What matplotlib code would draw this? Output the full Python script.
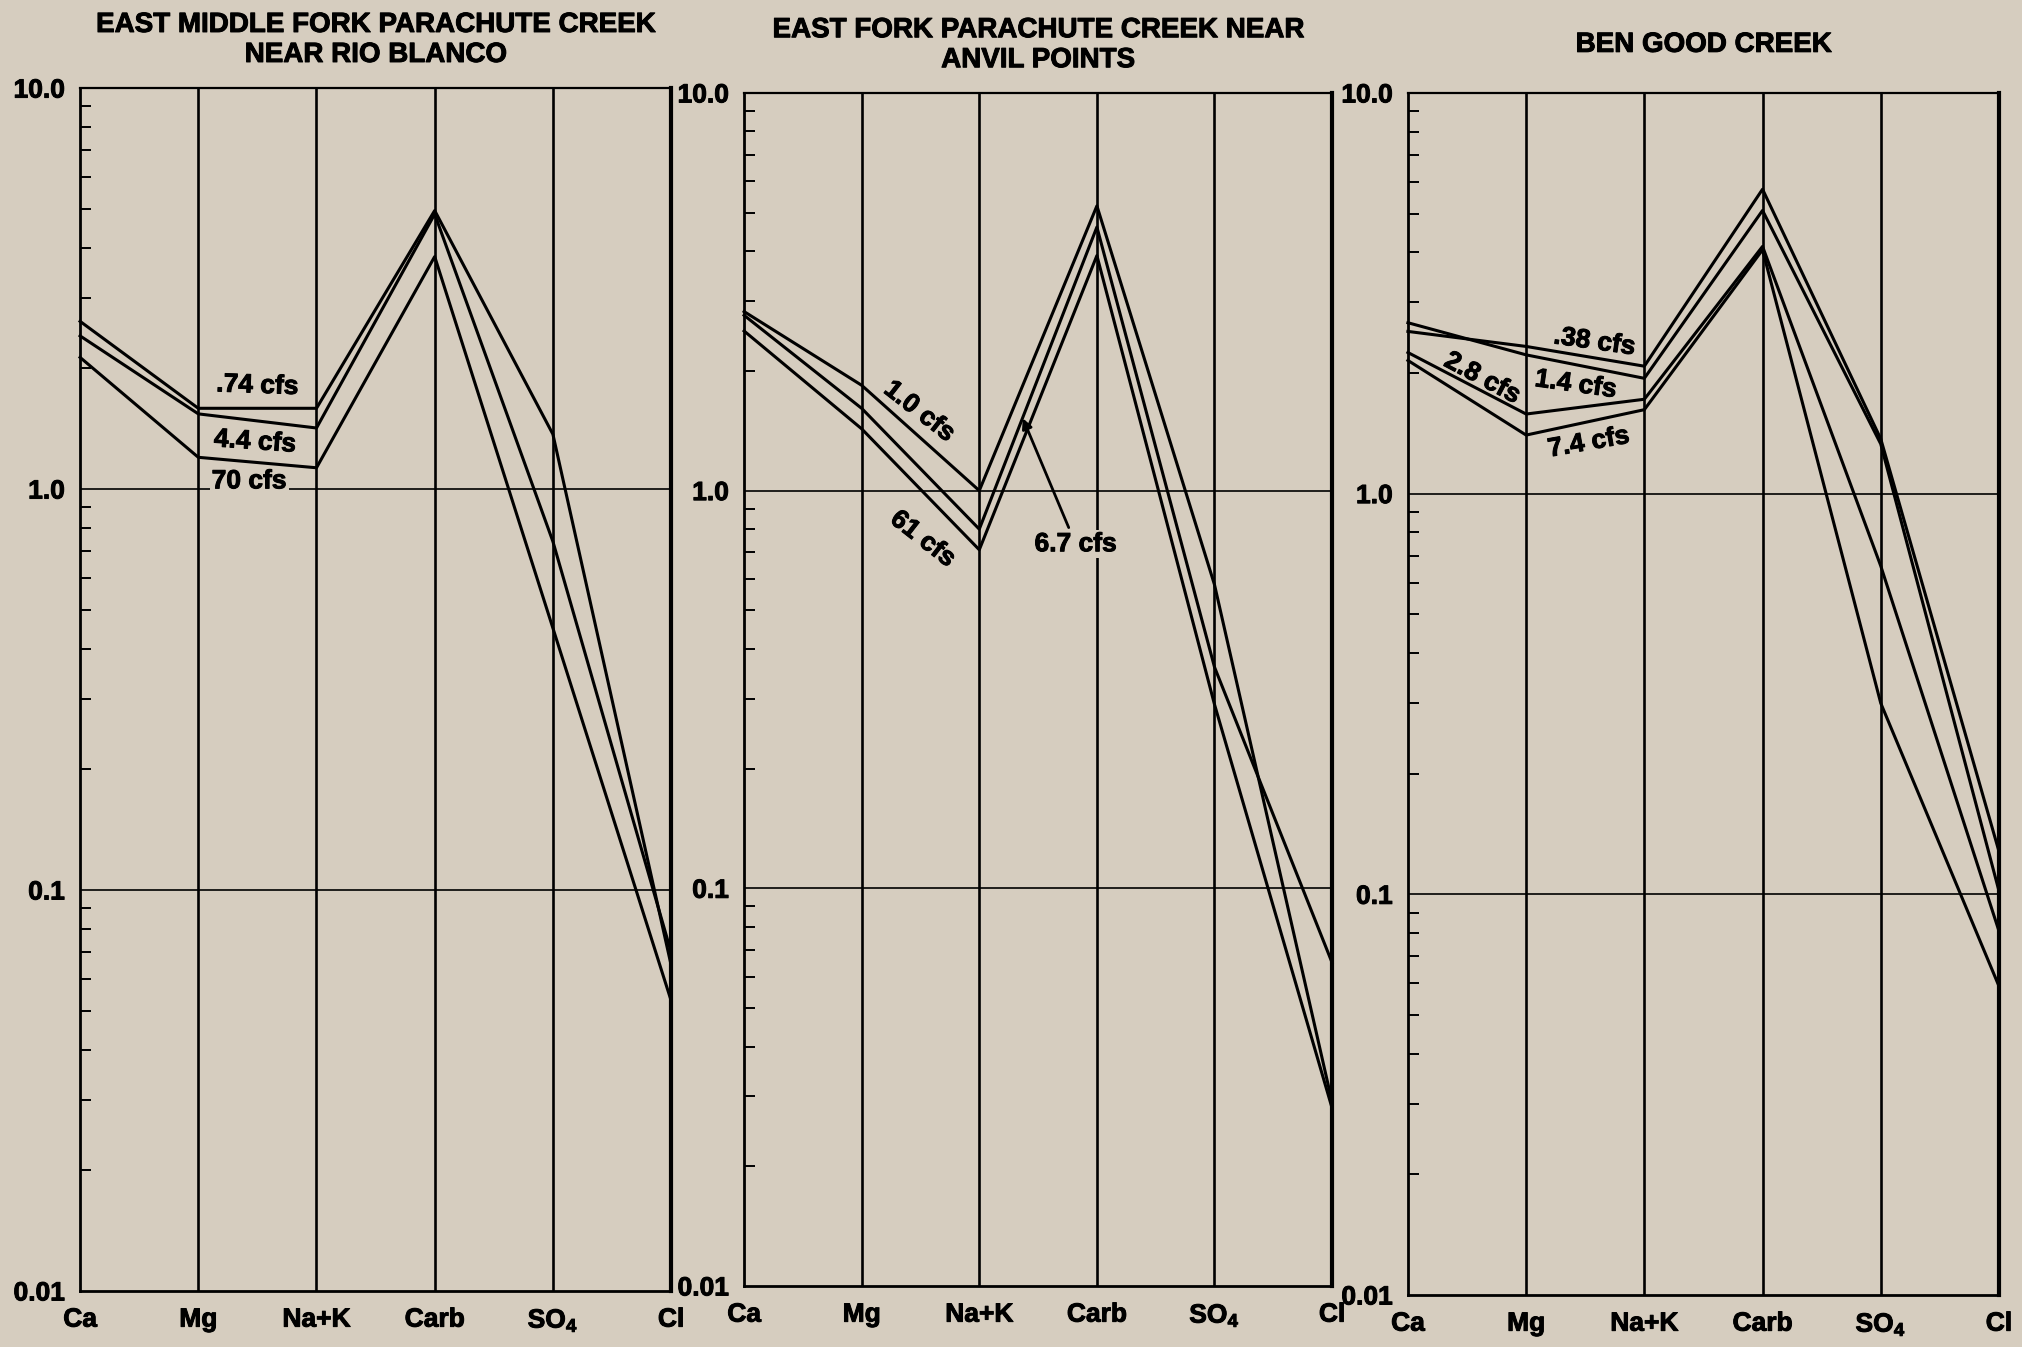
import numpy as np
import matplotlib.pyplot as plt
import matplotlib.patheffects as pe
from matplotlib.ticker import LogLocator, NullFormatter

plt.rcParams['font.family'] = ['Liberation Sans', 'DejaVu Sans']
plt.rcParams['font.weight'] = 'bold'
plt.rcParams['mathtext.fontset'] = 'custom'
plt.rcParams['mathtext.rm'] = 'Liberation Sans:bold'
plt.rcParams['mathtext.it'] = 'Liberation Sans:bold'
plt.rcParams['mathtext.bf'] = 'Liberation Sans:bold'

ions = ['Ca', 'Mg', 'Na+K', 'Carb', 'SO$_4$', 'Cl']
ytick_vals = [0.01, 0.1, 1.0, 10.0]
ytick_text = ['0.01', '0.1', '1.0', '10.0']

titles = ['EAST MIDDLE FORK PARACHUTE CREEK\nNEAR RIO BLANCO',
          'EAST FORK PARACHUTE CREEK NEAR\nANVIL POINTS',
          'BEN GOOD CREEK']

# milliequivalents per liter, Ca .. Cl, one list per sampled discharge
rio_blanco_074 = [2.62, 1.59, 1.59, 4.95, 1.37, 0.065]
rio_blanco_44 = [2.41, 1.54, 1.42, 4.85, 0.74, 0.070]
rio_blanco_70 = [2.13, 1.20, 1.13, 3.80, 0.45, 0.053]

anvil_10 = [2.82, 1.84, 1.00, 5.20, 0.58, 0.029]
anvil_67 = [2.76, 1.61, 0.80, 4.60, 0.36, 0.065]
anvil_61 = [2.52, 1.43, 0.71, 3.90, 0.29, 0.028]

ben_good_038 = [2.54, 2.33, 2.08, 5.75, 1.37, 0.128]
ben_good_14 = [2.67, 2.22, 1.94, 5.09, 1.33, 0.102]
ben_good_28 = [2.25, 1.58, 1.72, 4.14, 0.66, 0.081]
ben_good_74 = [2.15, 1.40, 1.62, 4.06, 0.30, 0.059]

samples = [[rio_blanco_074, rio_blanco_44, rio_blanco_70],
           [anvil_10, anvil_67, anvil_61],
           [ben_good_038, ben_good_14, ben_good_28, ben_good_74]]

bg = '#d6cdbf'
heavy = [pe.withStroke(linewidth=0.7, foreground='k')]

fig = plt.figure(figsize=(20.22, 13.47), dpi=100, facecolor=bg)

boxes = [[0.0396, 0.0416, 0.2923, 0.8930],
         [0.3680, 0.0453, 0.2908, 0.8857],
         [0.6963, 0.0386, 0.2923, 0.8924]]

axes = []
x = np.arange(len(ions))
for box, title, group in zip(boxes, titles, samples):
    ax = fig.add_axes(box)
    ax.set_facecolor(bg)
    ax.set_yscale('log')
    ax.set_xlim(0, 5)
    ax.set_ylim(0.01, 10)

    for xi in x[1:-1]:
        ax.axvline(xi, color='k', lw=1.9, zorder=1)
    for yv in (0.1, 1.0):
        ax.axhline(yv, color='k', lw=1.2, zorder=1)

    for s in group:
        ax.plot(x, s, color='k', lw=2.2, zorder=3, clip_on=False)

    ax.set_xticks(x)
    ax.set_xticklabels(ions)
    ax.set_yticks(ytick_vals)
    ax.set_yticklabels(ytick_text)
    ax.yaxis.set_minor_locator(LogLocator(base=10, subs=range(2, 10)))
    ax.yaxis.set_minor_formatter(NullFormatter())
    ax.tick_params(axis='x', length=0, pad=12, labelsize=19)
    ax.tick_params(axis='y', which='major', length=0, pad=11, labelsize=19)
    ax.tick_params(axis='y', which='minor', direction='in', length=8, width=1.4)
    for t in ax.get_xticklabels() + ax.get_yticklabels():
        t.set_path_effects(heavy)

    ax.spines['left'].set_linewidth(2.0)
    ax.spines['right'].set_linewidth(3.0)
    ax.spines['top'].set_linewidth(1.6)
    ax.spines['bottom'].set_linewidth(2.0)

    ax.text(0.5, 1.04, title, transform=ax.transAxes, ha='center', va='center',
            fontsize=20, linespacing=1.2, path_effects=heavy)
    axes.append(ax)

lbl = dict(fontsize=19, ha='center', va='center', zorder=5, path_effects=heavy)
clear = dict(facecolor=bg, edgecolor='none', pad=1.5)

ax1, ax2, ax3 = axes
ax1.text(1.50, 1.81, '.74 cfs', rotation=-2, **lbl)
ax1.text(1.48, 1.31, '4.4 cfs', rotation=-4, **lbl)
ax1.text(1.43, 1.045, '70 cfs', bbox=clear, **lbl)

ax2.text(1.49, 1.58, '1.0 cfs', rotation=-38, **lbl)
ax2.text(1.52, 0.755, '61 cfs', rotation=-38, **lbl)
ax2.annotate('6.7 cfs', xy=(2.37, 1.52), xytext=(2.82, 0.733),
             fontsize=19, ha='center', va='center', zorder=5, bbox=clear,
             path_effects=heavy,
             arrowprops=dict(arrowstyle='-|>', color='k', lw=2.0,
                             mutation_scale=15, shrinkA=2, shrinkB=0))

ax3.text(1.58, 2.39, '.38 cfs', rotation=-8, **lbl)
ax3.text(1.42, 1.87, '1.4 cfs', rotation=-8, **lbl)
ax3.text(0.63, 1.94, '2.8 cfs', rotation=-28, **lbl)
ax3.text(1.53, 1.34, '7.4 cfs', rotation=10, **lbl)

fig.savefig('out.png', dpi=100, facecolor=bg)
